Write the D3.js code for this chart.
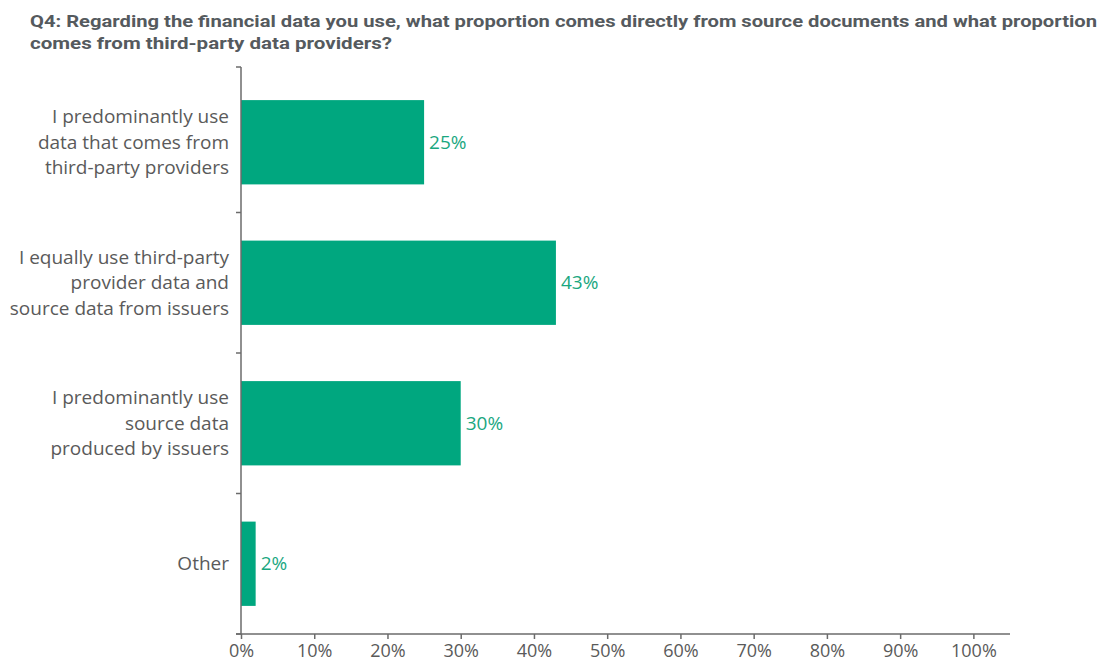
<!DOCTYPE html>
<html>
<head>
<meta charset="utf-8">
<script src="https://cdn.jsdelivr.net/npm/d3@7"></script>
<style>
  html, body { margin: 0; padding: 0; background: #fff; }
  svg { display: block; }
  text { font-family: "Open Sans", Roboto, sans-serif; }
  text.title { font-family: Roboto, sans-serif; }
</style>
</head>
<body>
<svg id="chart" width="1109" height="665"></svg>
<script>
// Survey answers, shares of respondents (%)
const categories = [
  ["I predominantly use", "data that comes from", "third-party providers"],
  ["I equally use third-party", "provider data and", "source data from issuers"],
  ["I predominantly use", "source data", "produced by issuers"],
  ["Other"]
];
const values = [25, 43, 30, 2];
const tickValues = [0, 10, 20, 30, 40, 50, 60, 70, 80, 90, 100];
const titleLines = [
  "Q4: Regarding the financial data you use, what proportion comes directly from source documents and what proportion",
  "comes from third-party data providers?"
];

const svg = d3.select("#chart");
const barColor = "#00a77f";
const textColor = "#5a5a5a";
const axisColor = "#6b6b6b";

// Title
svg.append("text")
  .attr("class", "title")
  .attr("x", 30).attr("y", 27)
  .attr("fill", "#555a5e")
  .attr("font-size", 16.5).attr("font-weight", 700)
  .attr("textLength", 1067).attr("lengthAdjust", "spacingAndGlyphs")
  .text(titleLines[0]);
svg.append("text")
  .attr("class", "title")
  .attr("x", 30).attr("y", 49)
  .attr("fill", "#555a5e")
  .attr("font-size", 16.5).attr("font-weight", 700)
  .attr("textLength", 362).attr("lengthAdjust", "spacingAndGlyphs")
  .text(titleLines[1]);

const x0 = 241, xEnd = 1010, yTop = 67, yBottom = 634;

const x = d3.scaleLinear().domain([0, 105]).range([x0, xEnd]);
const y = d3.scaleBand()
  .domain(d3.range(categories.length))
  .range([72, yBottom])
  .paddingInner(0.4)
  .paddingOuter(0.2);

// Bars
svg.append("g").selectAll("rect")
  .data(values)
  .join("rect")
  .attr("x", x(0))
  .attr("y", (d, i) => y(i))
  .attr("width", d => x(d) - x(0))
  .attr("height", y.bandwidth())
  .attr("fill", barColor);

// Value labels
svg.append("g").selectAll("text")
  .data(values)
  .join("text")
  .attr("x", d => x(d) + 5)
  .attr("y", (d, i) => y(i) + y.bandwidth() / 2)
  .attr("dy", "0.35em")
  .attr("fill", "#1aa77f")
  .attr("font-size", 19)
  .text(d => d + "%");

// Category labels
const labelG = svg.append("g");
categories.forEach((lines, i) => {
  const cy = y(i) + y.bandwidth() / 2;
  const lh = 25.5;
  const t = labelG.append("text")
    .attr("text-anchor", "end")
    .attr("fill", textColor)
    .attr("font-size", 19);
  lines.forEach((ln, j) => {
    t.append("tspan")
      .attr("x", 229)
      .attr("y", cy + (j - (lines.length - 1) / 2) * lh)
      .attr("dy", "0.35em")
      .text(ln);
  });
});

// Y axis: line with ticks at band boundaries
const step = y.step();
const bounds = d3.range(categories.length + 1).map(k => 72 + k * step);
bounds[0] = yTop;
const yAxisG = svg.append("g").attr("stroke", axisColor).attr("stroke-width", 1.5);
yAxisG.append("line").attr("x1", x0).attr("x2", x0).attr("y1", yTop).attr("y2", yBottom);
bounds.forEach(b => {
  yAxisG.append("line").attr("x1", x0 - 5).attr("x2", x0).attr("y1", b).attr("y2", b);
});

// X axis
const xAxis = d3.axisBottom(x)
  .tickValues(tickValues)
  .tickSize(5)
  .tickSizeOuter(0)
  .tickFormat(d => d + "%");
const xg = svg.append("g")
  .attr("transform", `translate(0,${yBottom})`)
  .call(xAxis);
xg.select(".domain").remove();
xg.append("line")
  .attr("x1", x0 - 5).attr("x2", xEnd)
  .attr("y1", 0).attr("y2", 0)
  .attr("stroke", axisColor).attr("stroke-width", 1.5);
xg.selectAll(".tick line").attr("stroke", axisColor).attr("stroke-width", 1.5);
xg.selectAll(".tick text")
  .attr("fill", textColor)
  .attr("font-size", 18)
  .attr("y", 10);
</script>
</body>
</html>
